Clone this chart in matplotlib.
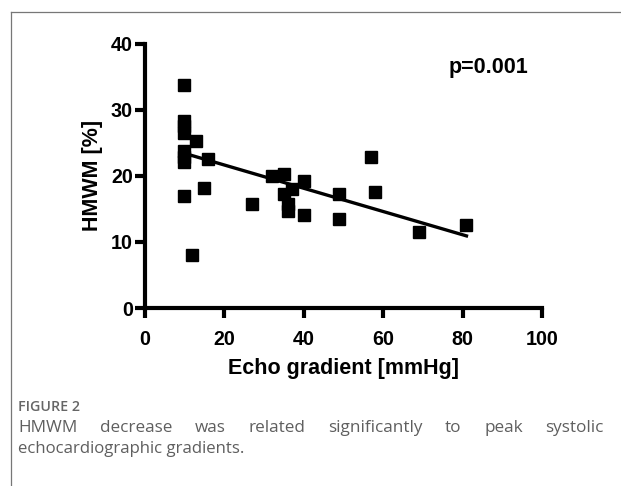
import numpy as np
import matplotlib
matplotlib.use("Agg")
from matplotlib import pyplot as plt
from matplotlib.lines import Line2D

# values
gradient = [10, 10, 10, 10, 10, 10, 10, 10, 12, 13, 15, 16, 27, 32, 35, 35,
            36, 36, 37, 40, 40, 49, 49, 57, 58, 69, 81]
hmwm = [33.7, 28.3, 27.5, 26.5, 23.8, 22.8, 22.1, 17.0, 8.0, 25.3, 18.2, 22.5,
        15.8, 20.0, 20.3, 17.2, 15.8, 14.6, 18.0, 19.2, 14.1, 17.2, 13.4, 22.8,
        17.6, 11.5, 12.6]
# regression line as drawn in the figure
fit_slope = -0.176
fit_intercept = 25.16
x_ticks = [0, 20, 40, 60, 80, 100]
y_ticks = [0, 10, 20, 30, 40]
p_text = "p=0.001"
caption_title = "FIGURE 2"
caption_line1 = "HMWM decrease was related significantly to peak systolic"
caption_line2 = "echocardiographic gradients."

W, H = 621, 486
fig = plt.figure(figsize=(W / 100, H / 100), dpi=100)
ax = fig.add_axes([144.5 / W, 1 - 308 / H, (542 - 144.5) / W, (308 - 43.5) / H])

bold = dict(family="Liberation Sans", weight="bold")

ax.plot(gradient, hmwm, "s", color="black", markersize=8, clip_on=False)

xs = np.array([min(gradient), max(gradient)])
ax.plot(xs, fit_slope * xs + fit_intercept, color="black", lw=2.4)

ax.set_xlim(0, 100)
ax.set_ylim(0, 40)
ax.set_xticks(x_ticks)
ax.set_yticks(y_ticks)
for s in ["top", "right"]:
    ax.spines[s].set_visible(False)
for s in ["left", "bottom"]:
    ax.spines[s].set_linewidth(3.0)
ax.tick_params(width=3.0, length=7, direction="out", labelsize=14.2)
ax.tick_params(axis="x", pad=9)
ax.tick_params(axis="y", pad=1.5)
for lab in ax.get_xticklabels() + ax.get_yticklabels():
    lab.set_fontfamily("Liberation Sans")
    lab.set_fontweight("bold")

ax.set_xlabel("Echo gradient [mmHg]", fontsize=15.5, labelpad=6, **bold)
ax.set_ylabel("HMWM [%]", fontsize=15.5, labelpad=5.5, **bold)

ax.text(96.6, 36.4, p_text, ha="right", va="center", fontsize=15.5, **bold)

# frame lines of the figure panel
fig.add_artist(Line2D([11 / W, 11 / W], [0, 1 - 12 / H], color="#777777", lw=0.9))
fig.add_artist(Line2D([11 / W, 1], [1 - 12 / H, 1 - 12 / H], color="#777777", lw=0.9))

grey = "#5f5f5f"
fig.text(18 / W, 1 - 407 / H, caption_title, fontsize=10.3, color="#666666",
         family="Open Sans", weight="semibold", va="center")

# justified first line
renderer = fig.canvas.get_renderer()
words = caption_line1.split()
left, right = 18, 604
texts = [fig.text(0, 1 - 428 / H, w, fontsize=12.3, color=grey,
                  family="Open Sans", va="center") for w in words]
widths = [t.get_window_extent(renderer).width for t in texts]
gap = (right - left - sum(widths)) / (len(words) - 1)
xpos = left
for t, w in zip(texts, widths):
    t.set_x(xpos / W)
    xpos += w + gap

fig.text(18 / W, 1 - 449 / H, caption_line2, fontsize=12.1, color=grey,
         family="Open Sans", va="center")

fig.savefig("out.png", dpi=100)
